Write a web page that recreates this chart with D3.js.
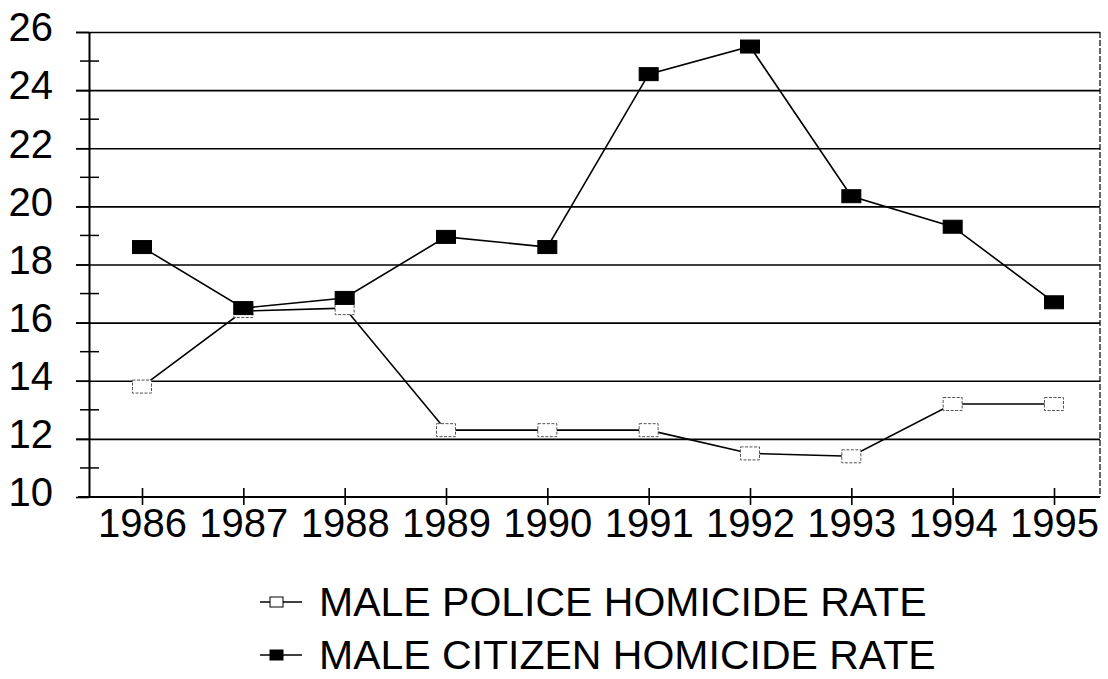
<!DOCTYPE html>
<html>
<head>
<meta charset="utf-8">
<script src="https://cdn.jsdelivr.net/npm/d3@7"></script>
<style>
  body { margin: 0; background: #fff; }
  svg text { font-family: "Liberation Sans", Arial, sans-serif; fill: #000; }
</style>
</head>
<body>
<div id="chart"></div>
<script>
// data
const years = ["1986", "1987", "1988", "1989", "1990", "1991", "1992", "1993", "1994", "1995"];
const policeRate = [13.8, 16.4, 16.5, 12.3, 12.3, 12.3, 11.5, 11.4, 13.2, 13.2];
const citizenRate = [18.6, 16.5, 16.85, 18.95, 18.6, 24.55, 25.5, 20.35, 19.3, 16.7];
const yMajorTicks = [10, 12, 14, 16, 18, 20, 22, 24, 26];
const yMinorTicks = [11, 13, 15, 17, 19, 21, 23, 25];
const seriesNames = ["MALE POLICE HOMICIDE RATE", "MALE CITIZEN HOMICIDE RATE"];

const width = 1108, height = 679;
const plot = { left: 89, right: 1100, top: 32, bottom: 497 };

const svg = d3.select("#chart").append("svg")
    .attr("width", width)
    .attr("height", height);

// scales
const x = d3.scalePoint().domain(years).range([142, 1054]);
const y = d3.scaleLinear().domain([10, 26]).range([plot.bottom, plot.top]);

// gridlines (stick out a little to the left of the axis, like the original)
svg.append("g")
    .attr("transform", `translate(${plot.left},0)`)
    .call(d3.axisLeft(y).tickValues(yMajorTicks.slice(1)).tickSize(-(plot.right - plot.left)).tickFormat(""))
    .call(g => g.select(".domain").remove())
    .call(g => g.selectAll("line").attr("x1", -13).attr("stroke", "#000").attr("stroke-width", 1.6));

// y axis with labels
svg.append("g")
    .attr("transform", `translate(${plot.left},0)`)
    .call(d3.axisLeft(y).tickValues(yMajorTicks).tickSize(13).tickPadding(23).tickSizeOuter(0))
    .call(g => g.select(".domain").attr("stroke", "#000").attr("stroke-width", 2))
    .call(g => g.selectAll("line").attr("stroke", "#000").attr("stroke-width", 1.6))
    .call(g => g.selectAll("text").attr("font-size", 40).attr("dy", "0.22em")
        .style("font-family", "'Liberation Sans', Arial, sans-serif"));

// minor ticks crossing the y axis
svg.append("g")
    .selectAll("line")
    .data(yMinorTicks)
    .join("line")
    .attr("x1", plot.left - 9)
    .attr("x2", plot.left + 10)
    .attr("y1", d => y(d))
    .attr("y2", d => y(d))
    .attr("stroke", "#000")
    .attr("stroke-width", 1.5);

// right border
svg.append("line")
    .attr("x1", plot.right).attr("x2", plot.right)
    .attr("y1", plot.top).attr("y2", plot.bottom)
    .attr("stroke", "#000").attr("stroke-width", 1.2)
    .attr("stroke-dasharray", "6,2");

// x axis
svg.append("g")
    .attr("transform", `translate(0,${plot.bottom})`)
    .call(d3.axisBottom(x).tickSize(8).tickSizeOuter(0))
    .call(g => g.select(".domain").attr("d", `M${plot.left - 11},0H${plot.right}`)
        .attr("stroke", "#000").attr("stroke-width", 2))
    .call(g => g.selectAll("line").attr("y1", -9).attr("stroke", "#000").attr("stroke-width", 1.6))
    .call(g => g.selectAll("text").attr("font-size", 40).attr("y", 40).attr("dy", 0)
        .style("font-family", "'Liberation Sans', Arial, sans-serif"));

// lines + markers
const series = [
    { name: seriesNames[0], values: policeRate, fill: "#fff" },
    { name: seriesNames[1], values: citizenRate, fill: "#000" }
];

const line = d3.line()
    .x((d, i) => x(years[i]))
    .y(d => y(d));

const mw = 19, mh = 13;

series.forEach(s => {
    svg.append("path")
        .datum(s.values)
        .attr("d", line)
        .attr("fill", "none")
        .attr("stroke", "#000")
        .attr("stroke-width", 1.6);

    svg.append("g")
        .selectAll("rect")
        .data(s.values)
        .join("rect")
        .attr("x", (d, i) => x(years[i]) - mw / 2)
        .attr("y", d => y(d) - mh / 2)
        .attr("width", mw)
        .attr("height", mh)
        .attr("fill", s.fill)
        .attr("stroke", s.fill === "#fff" ? "#555" : "#000")
        .attr("stroke-width", 1)
        .attr("stroke-dasharray", s.fill === "#fff" ? "3,1.5" : null);
});

// legend
const legend = svg.append("g");
series.forEach((s, i) => {
    const ly = 602 + i * 53;
    const row = legend.append("g").attr("transform", `translate(0,${ly})`);
    row.append("line")
        .attr("x1", 260).attr("x2", 302)
        .attr("y1", 0).attr("y2", 0)
        .attr("stroke", "#000").attr("stroke-width", 1.5);
    row.append("rect")
        .attr("x", 270).attr("y", -5)
        .attr("width", 13).attr("height", 10)
        .attr("fill", s.fill)
        .attr("stroke", "#000").attr("stroke-width", 1);
    row.append("text")
        .attr("x", 319)
        .attr("y", 14)
        .attr("font-size", 41)
        .text(s.name);
});
</script>
</body>
</html>
